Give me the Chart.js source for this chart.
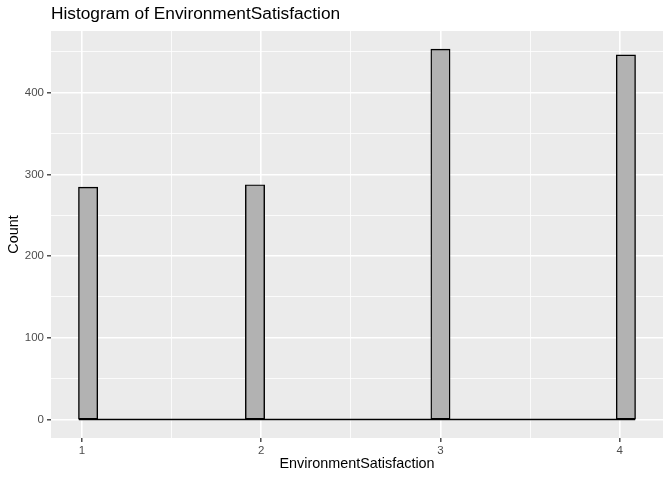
<!DOCTYPE html>
<html>
<head>
<meta charset="utf-8">
<script src="https://cdn.jsdelivr.net/npm/chart.js@4"></script>
<style>
  html, body { margin: 0; padding: 0; background: #fff; }
  #wrap { width: 672px; height: 480px; }
</style>
</head>
<body>
<div id="wrap"><canvas id="histChart" width="672" height="480"></canvas></div>
<script>
// histogram of EnvironmentSatisfaction, 30 bins (ggplot default)
const binStart = 0.9828;
const binWidth = 3 / 29;
const binCounts = [284, 0, 0, 0, 0, 0, 0, 0, 0, 287,
                   0, 0, 0, 0, 0, 0, 0, 0, 0, 453,
                   0, 0, 0, 0, 0, 0, 0, 0, 0, 446];
const xTicks = [1, 1.5, 2, 2.5, 3, 3.5, 4];
const xLabels = ['1', '', '2', '', '3', '', '4'];
const yTicks = [0, 50, 100, 150, 200, 250, 300, 350, 400, 450];
const yLabels = ['0', '', '100', '', '200', '', '300', '', '400', ''];

const binCentres = binCounts.map((c, i) => binStart + (i + 0.5) * binWidth);
const xFrom = binStart, xTo = binStart + binCounts.length * binWidth;
const xPad = (xTo - xFrom) * 0.05;
const yMax = Math.max(...binCounts);

const fontFam = '"Liberation Sans", Arial, Helvetica, sans-serif';

const panelBg = {
  id: 'panelBg',
  beforeDraw(chart) {
    const { ctx, chartArea: a } = chart;
    ctx.save();
    ctx.fillStyle = '#EBEBEB';
    ctx.fillRect(a.left, a.top, a.right - a.left, a.bottom - a.top);
    ctx.restore();
  },
  afterDraw(chart) {
    const { ctx, chartArea: a } = chart;
    ctx.save();
    ctx.fillStyle = '#000';
    ctx.font = '17.3px ' + fontFam;
    ctx.textBaseline = 'alphabetic';
    ctx.textAlign = 'left';
    ctx.fillText('Histogram of EnvironmentSatisfaction', a.left, 19);
    ctx.restore();
  }
};

new Chart(document.getElementById('histChart'), {
  type: 'bar',
  data: {
    datasets: [{
      type: 'line',
      data: [{ x: xFrom, y: 0 }, { x: xTo, y: 0 }],
      borderColor: '#000',
      borderWidth: 1.4,
      pointRadius: 0,
      order: 2
    }, {
      data: binCentres.map((x, i) => ({ x: x, y: binCounts[i] })),
      backgroundColor: '#B2B2B2',
      borderColor: '#000',
      borderWidth: 1.4,
      borderSkipped: false,
      inflateAmount: 0.7,
      barPercentage: 1,
      categoryPercentage: 1,
      order: 1
    }]
  },
  options: {
    responsive: false,
    animation: false,
    layout: { padding: { top: 31, right: 9, left: 0, bottom: 0 } },
    plugins: {
      legend: { display: false },
      tooltip: { enabled: false }
    },
    scales: {
      x: {
        type: 'linear',
        offset: false,
        min: xFrom - xPad,
        max: xTo + xPad,
        afterBuildTicks: s => { s.ticks = xTicks.map(v => ({ value: v })); },
        afterFit: s => { s.height = 42; },
        border: { display: false },
        grid: {
          offset: false,
          color: '#fff',
          lineWidth: c => (c.index % 2 === 0 ? 1.6 : 0.8),
          tickColor: c => (c.index % 2 === 0 ? '#333' : 'rgba(0,0,0,0)'),
          tickLength: 4,
          tickWidth: 1.3
        },
        ticks: {
          autoSkip: false,
          maxRotation: 0,
          padding: 2,
          color: '#4D4D4D',
          font: { family: fontFam, size: 11.5 },
          callback: (v, i) => xLabels[i]
        },
        title: {
          display: true,
          text: 'EnvironmentSatisfaction',
          color: '#000',
          font: { family: fontFam, size: 14.4 },
          padding: { top: 0, bottom: 7 }
        }
      },
      y: {
        min: -yMax * 0.05,
        max: yMax * 1.05,
        afterBuildTicks: s => { s.ticks = yTicks.map(v => ({ value: v })); },
        afterFit: s => { s.width = 51; },
        border: { display: false },
        grid: {
          color: '#fff',
          lineWidth: c => (c.index % 2 === 0 ? 1.6 : 0.8),
          tickColor: c => (c.index % 2 === 0 ? '#333' : 'rgba(0,0,0,0)'),
          tickLength: 4,
          tickWidth: 1.3
        },
        ticks: {
          autoSkip: false,
          padding: 3,
          color: '#4D4D4D',
          font: { family: fontFam, size: 11.5 },
          callback: (v, i) => yLabels[i]
        },
        title: {
          display: true,
          text: 'Count',
          color: '#000',
          font: { family: fontFam, size: 14.4 },
          padding: { top: 5, bottom: 0 }
        }
      }
    }
  },
  plugins: [panelBg]
});
</script>
</body>
</html>
